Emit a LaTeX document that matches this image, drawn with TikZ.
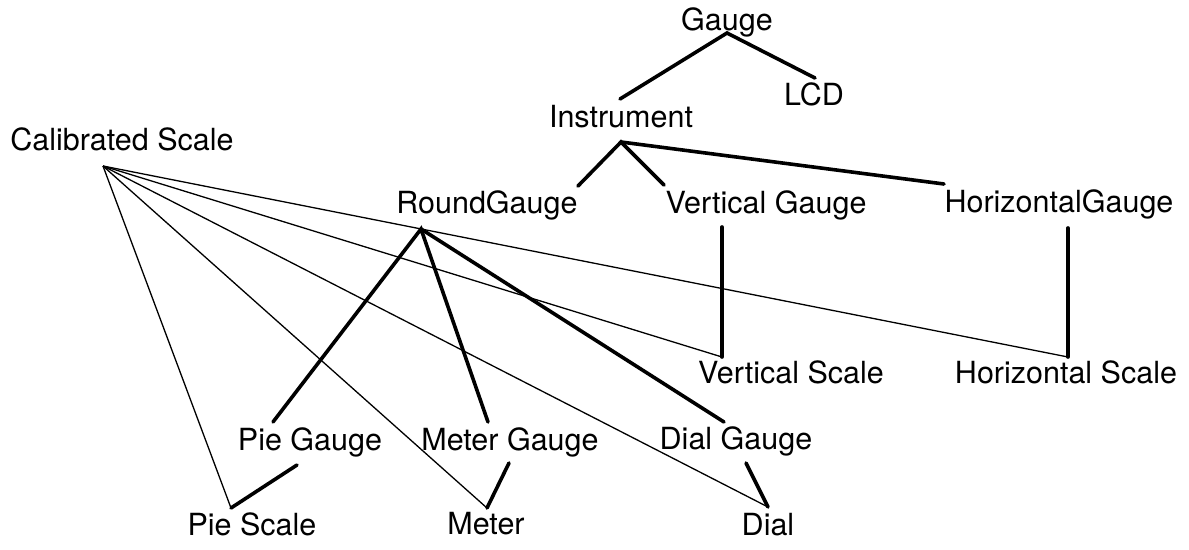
\documentclass[tikz,border=0pt]{standalone}
\usepackage{fontspec}
\setmainfont{TeX Gyre Heros}

\begin{document}
\begin{tikzpicture}[x=1pt,y=-1pt,
        lbl/.style={anchor=base,inner sep=0pt,font=\fontsize{30.5}{36}\selectfont},
        isa/.style={line width=3.6pt,line cap=round},
        uses/.style={line width=1.3pt}]
        \useasboundingbox (0,0) rectangle (1189,549);
        % labels
        \node[lbl] (gauge) at (727,30) {Gauge};
        \node[lbl] (lcd) at (814,105) {LCD};
        \node[lbl] (instr) at (621,127) {Instrument};
        \node[lbl] (cal) at (122,150) {Calibrated Scale};
        \node[lbl] (round) at (487,213) {RoundGauge};
        \node[lbl] (vert) at (766,213) {Vertical Gauge};
        \node[lbl] (horiz) at (1059,212) {HorizontalGauge};
        \node[lbl] (vscale) at (791,383) {Vertical Scale};
        \node[lbl] (hscale) at (1066,383) {Horizontal Scale};
        \node[lbl] (pieg) at (310,450) {Pie Gauge};
        \node[lbl] (meterg) at (510,450) {Meter Gauge};
        \node[lbl] (dialg) at (736,449) {Dial Gauge};
        \node[lbl] (pies) at (252,535) {Pie Scale};
        \node[lbl] (meter) at (486,534) {Meter};
        \node[lbl] (dial) at (768,535) {Dial};
        % joints
        \coordinate (gauge-b) at (727,33);
        \coordinate (lcd-t) at (815,78);
        \coordinate (instr-t) at (620,99);
        \coordinate (instr-b) at (621,142);
        \coordinate (round-t) at (578,186);
        \coordinate (vert-t) at (664,185);
        \coordinate (horiz-t) at (944,184);
        \coordinate (round-b) at (421,229);
        \coordinate (vert-b) at (722,227);
        \coordinate (horiz-b) at (1068,228);
        \coordinate (vscale-t) at (722,357);
        \coordinate (hscale-t) at (1068,357);
        \coordinate (cal-b) at (103,166);
        \coordinate (pieg-t) at (273,422);
        \coordinate (meterg-t) at (488,422);
        \coordinate (dialg-t) at (724,422);
        \coordinate (pieg-b) at (297,465);
        \coordinate (meterg-b) at (509,463);
        \coordinate (dialg-b) at (746,463);
        \coordinate (pies-t) at (231,508);
        \coordinate (meter-t) at (487,508);
        \coordinate (dial-t) at (768,507);
        % tree
        \draw[isa] (instr-t) -- (gauge-b) -- (lcd-t);
        \draw[isa] (round-t) -- (instr-b) -- (vert-t);
        \draw[isa] (instr-b) -- (horiz-t);
        \draw[isa] (vert-b) -- (vscale-t);
        \draw[isa] (horiz-b) -- (hscale-t);
        \draw[isa] (pieg-t) -- (round-b) -- (meterg-t);
        \draw[isa] (round-b) -- (dialg-t);
        \draw[isa] (pieg-b) -- (pies-t);
        \draw[isa] (meterg-b) -- (meter-t);
        \draw[isa] (dialg-b) -- (dial-t);
        % scales
        \foreach \s in {pies-t,meter-t,dial-t,vscale-t,hscale-t}
          \draw[uses] (cal-b) -- (\s);
\end{tikzpicture}
\end{document}
